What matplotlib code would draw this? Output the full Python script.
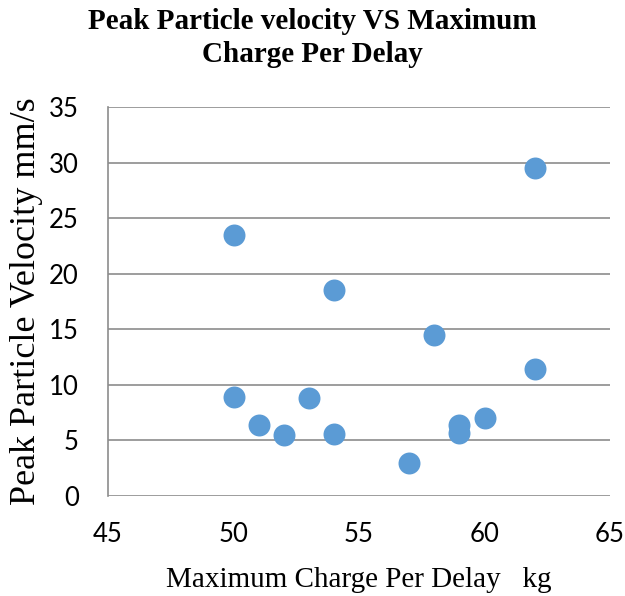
import matplotlib.pyplot as plt

# Maximum charge per delay (kg) and measured peak particle velocity (mm/s)
charge_kg = [50, 50, 51, 52, 53, 54, 54, 57, 58, 59, 59, 60, 62, 62]
ppv_mm_s = [23.5, 8.9, 6.4, 5.5, 8.8, 18.5, 5.6, 3.0, 14.5, 6.4, 5.7, 7.0, 29.5, 11.4]

x_ticks = [45, 50, 55, 60, 65]
y_ticks = [0, 5, 10, 15, 20, 25, 30, 35]

fig = plt.figure(figsize=(6.25, 5.96), dpi=100)
ax = fig.add_axes([0.173, 0.168, 0.803, 0.652])

ax.scatter(charge_kg, ppv_mm_s, s=250, color="#5B9BD5", zorder=3, linewidths=0)

ax.set_xlim(45, 65)
ax.set_ylim(0, 35)
ax.set_xticks(x_ticks)
ax.set_yticks(y_ticks)
ax.tick_params(axis="x", length=0, labelsize=18.5, pad=19)
ax.tick_params(axis="y", length=0, labelsize=18.5, pad=21)
for lbl in ax.get_xticklabels() + ax.get_yticklabels():
    lbl.set_family("Lato")

# horizontal gridlines only, left axis line kept
ax.grid(axis="y", color="#8c8c8c", linewidth=1.2)
ax.set_axisbelow(True)
for side in ["top", "right", "bottom"]:
    ax.spines[side].set_visible(False)
ax.spines["left"].set_color("#8c8c8c")
ax.spines["left"].set_linewidth(1.2)

ax.set_xlabel("Maximum Charge Per Delay   kg", family="Liberation Serif",
              fontsize=21, labelpad=14)
ax.set_ylabel("Peak Particle Velocity mm/s", family="Liberation Serif",
              fontsize=26, labelpad=4)
fig.suptitle("Peak Particle velocity VS Maximum\nCharge Per Delay",
             family="Liberation Serif", fontweight="bold", fontsize=21,
             x=0.5, y=0.987, linespacing=1.3)

fig.savefig("out.png", dpi=100)
